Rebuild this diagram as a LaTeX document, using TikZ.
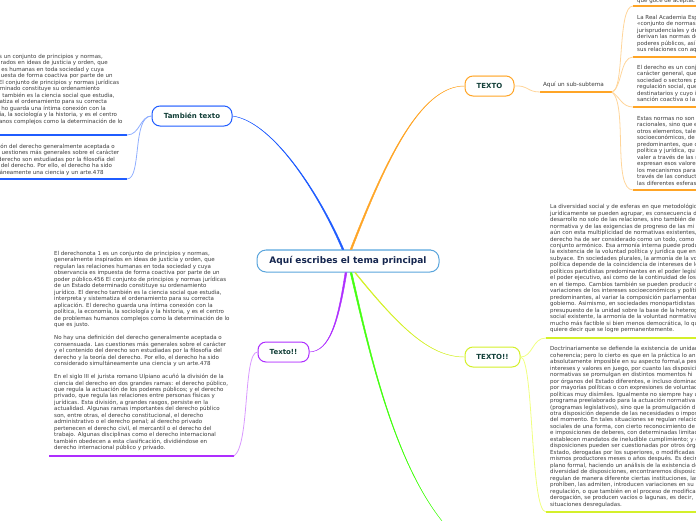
\documentclass[tikz,border=0pt]{standalone}
\usepackage{fontspec}
\setmainfont{DejaVu Sans}
\definecolor{bluem}{HTML}{1F5CFF}
\definecolor{bluel}{HTML}{8FAEFF}
\definecolor{orangem}{HTML}{FFA526}
\definecolor{orangel}{HTML}{FFD59A}
\definecolor{purplem}{HTML}{AE2EFF}
\definecolor{purplel}{HTML}{D998FF}
\definecolor{limem}{HTML}{D4F02A}
\definecolor{limel}{HTML}{F0FF80}
\definecolor{greenm}{HTML}{44FF10}
\definecolor{centerb}{HTML}{5AA5DC}
\definecolor{centerl}{HTML}{93C6EA}
\definecolor{navy}{HTML}{15264F}
\definecolor{dgreen}{HTML}{123F38}
\definecolor{body}{HTML}{3C3C3C}
\newcommand\lcut[2]{\hbox to 122pt{\kern-53pt\hphantom{#1}#2\hss}}
\newcommand\taper[6]{\filldraw[#1,line width=.45pt,line join=round] ([xshift=-#6pt]#2) .. controls ([xshift=-.6*#6pt]#3) and ([xshift=-.2*#6pt]#4) .. (#5) .. controls ([xshift=.2*#6pt]#4) and ([xshift=.6*#6pt]#3) .. ([xshift=#6pt]#2) -- cycle;}
\tikzset{
  x=1pt,y=-1pt,
  mainbox/.style={draw=centerb,line width=1pt,fill=white,rounded corners=9pt,inner sep=0pt,text=navy,font=\fontsize{9}{11}\bfseries\selectfont},
  branchbox/.style={draw=#1,line width=1pt,fill=white,rounded corners=8pt,inner sep=0pt,text=dgreen,font=\fontsize{7}{9}\bfseries\selectfont},
  leaftext/.style={inner sep=0pt,anchor=north west,align=left,text=body,font=\fontsize{5.52}{6.48}\selectfont},
  under/.style={draw=#1,line width=1.3pt},
  link/.style={draw=#1,line width=.8pt}
}
\begin{document}
\begin{tikzpicture}
\useasboundingbox (0,0) rectangle (696,520);
% main nodes
\node[mainbox,minimum width=182pt,minimum height=22pt] (central) at (348,261) {Aquí escribes el tema principal};
\node[branchbox=bluem,minimum width=80pt,minimum height=20pt] (tambien) at (192,116) {También texto};
\node[branchbox=orangem,minimum width=49pt,minimum height=20pt] (texto) at (489.5,86) {TEXTO};
\node[branchbox=limem,minimum width=55pt,minimum height=20pt] (textob) at (492.5,357) {TEXTO!!};
\node[branchbox=purplem,minimum width=51pt,minimum height=20pt] (textoc) at (283.5,352) {Texto!!};
\draw[orangel,line width=1.2pt] ([xshift=8pt]texto.north west) -- ([xshift=-8pt]texto.north east);
\draw[purplel,line width=1.2pt] ([xshift=8pt]textoc.south west) -- ([xshift=-8pt]textoc.south east);
\draw[bluel,line width=1.1pt] ([xshift=8pt]tambien.north west) -- ([xshift=-8pt]tambien.north east);
\draw[centerl,line width=1.1pt] ([xshift=9pt]central.north west) -- ([xshift=-9pt]central.north east);
% branch roots and free end of the green branch
\coordinate (cblue) at ([xshift=-5pt]central.north);
\coordinate (corange) at ([xshift=3pt]central.north);
\coordinate (cpurple) at ([xshift=-2pt]central.south);
\coordinate (cgreen) at ([xshift=3pt]central.south);
\coordinate (clime) at ([xshift=7pt]central.south);
\coordinate (greenend) at (442,521);
% main branches
\taper{bluem}{cblue}{322,200}{275,122}{tambien.east}{.9}
\taper{orangem}{corange}{385,162}{420,86}{texto.west}{.9}
\taper{purplem}{cpurple}{338,322}{330,351}{textoc.east}{.9}
\taper{greenm}{cgreen}{368,345}{392,458}{greenend}{.9}
\taper{limem}{clime}{400,328}{430,357}{textob.west}{.5}
% sub topic
\node[inner sep=0pt,text=body,font=\fontsize{5.7}{7}\selectfont] (sub) at (573.5,85) {Aquí un sub-subtema};
\coordinate (suba) at (540,92);
\coordinate (subb) at (612,92);
\draw[under=orangem] (suba) -- (subb);
\draw[link=orangel] (texto.east) .. controls (528,85) and (527,92) .. (suba);
% left, También
\node[leaftext] (la) at (0,54) {\lcut{El derechonota 1 e}{s un conjunto de principios y normas,}\\
\lcut{generalmente inspi}{rados en ideas de justicia y orden, que}\\
\lcut{regulan las relacion}{es humanas en toda sociedad y cuya}\\
\lcut{observancia es imp}{uesta de forma coactiva por parte de un}\\
\lcut{poder público.456 }{El conjunto de principios y normas jurídicas}\\
\lcut{de un Estado deter}{minado constituye su ordenamiento}\\
\lcut{jurídico. El derecho }{también es la ciencia social que estudia,}\\
\lcut{interpreta y sistem}{atiza el ordenamiento para su correcta}\\
\lcut{aplicación. El derec}{ho guarda una íntima conexión con la}\\
\lcut{política, la econom}{ía, la sociología y la historia, y es el centro}\\
\lcut{de problemas hum}{anos complejos como la determinación de lo}};
\coordinate (laa) at (0,135);
\coordinate (lab) at (127,135);
\draw[under=bluem] (laa) -- (lab);
\draw[link=bluel] (tambien.west) .. controls (140,116) and (140,135) .. (lab);
\node[leaftext] (lb) at (0,143.5) {\lcut{No hay una definici}{ón del derecho generalmente aceptada o}\\
\lcut{consensuada. Las c}{uestiones más generales sobre el carácter}\\
\lcut{y el contenido del }{derecho son estudiadas por la filosofía del}\\
\lcut{derecho y la teoría }{del derecho. Por ello, el derecho ha sido}\\
\lcut{considerado simult}{áneamente una ciencia y un arte.478}};
\coordinate (lba) at (0,179);
\coordinate (lbb) at (127,179);
\draw[under=bluem] (lba) -- (lbb);
\draw[link=bluel] (tambien.west) .. controls (132,116) and (142,179) .. (lbb);
% left, Texto!!
\node[leaftext] (lc) at (54,251) {El derechonota 1 es un conjunto de principios y normas,\\
generalmente inspirados en ideas de justicia y orden, que\\
regulan las relaciones humanas en toda sociedad y cuya\\
observancia es impuesta de forma coactiva por parte de un\\
poder público.456 El conjunto de principios y normas jurídicas\\
de un Estado determinado constituye su ordenamiento\\
jurídico. El derecho también es la ciencia social que estudia,\\
interpreta y sistematiza el ordenamiento para su correcta\\
aplicación. El derecho guarda una íntima conexión con la\\
política, la economía, la sociología y la historia, y es el centro\\
de problemas humanos complejos como la determinación de lo\\
que es justo.\\[6.48pt]
No hay una definición del derecho generalmente aceptada o\\
consensuada. Las cuestiones más generales sobre el carácter\\
y el contenido del derecho son estudiadas por la filosofía del\\
derecho y la teoría del derecho. Por ello, el derecho ha sido\\
considerado simultáneamente una ciencia y un arte.478\\[6.48pt]
En el siglo III el jurista romano Ulpiano acuñó la división de la\\
ciencia del derecho en dos grandes ramas: el derecho público,\\
que regula la actuación de los poderes públicos; y el derecho\\
privado, que regula las relaciones entre personas físicas y\\
jurídicas. Esta división, a grandes rasgos, persiste en la\\
actualidad. Algunas ramas importantes del derecho público\\
son, entre otras, el derecho constitucional, el derecho\\
administrativo o el derecho penal; al derecho privado\\
pertenecen el derecho civil, el mercantil o el derecho del\\
trabajo. Algunas disciplinas como el derecho internacional\\
también obedecen a esta clasificación, dividiéndose en\\
derecho internacional público y privado.};
\coordinate (lca) at (49,456);
\coordinate (lcb) at (234,456);
\draw[under=purplem] (lca) -- (lcb);
\draw[link=purplel] (textoc.west) .. controls (243,352) and (250,445) .. (lcb);
% right, TEXTO
\coordinate (ra) at (633,6); \coordinate (rae) at (696,6);
\coordinate (rb) at (633,57); \coordinate (rbe) at (696,57);
\coordinate (rc) at (633,107); \coordinate (rce) at (696,107);
\coordinate (rd) at (633,190); \coordinate (rde) at (696,190);
\node[leaftext] (ta) at (637,-2) {que goce de aceptac};
\node[leaftext] (tb) at (637,15) {La Real Academia Esp\\«conjunto de normas\\jurisprudenciales y de\\derivan las normas de\\poderes públicos, así\\sus relaciones con aq};
\node[leaftext] (tc) at (637,65) {El derecho es un conj\\carácter general, que\\sociedad o sectores p\\regulación social, que\\destinatarios y cuyo i\\sanción coactiva o la};
\node[leaftext] (td) at (637,116) {Estas normas no son\\racionales, sino que e\\otros elementos, tale\\socioeconómicos, de\\predominantes, que c\\política y jurídica, qu\\valer a través de las n\\expresan esos valore\\los mecanismos para\\través de las conduct\\las diferentes esferas};
\foreach \s/\e in {ra/rae,rb/rbe,rc/rce,rd/rde} \draw[under=orangem] (\s) -- (\e);
\draw[link=orangel] (subb) .. controls (625,90) and (617,6) .. (ra);
\draw[link=orangel] (subb) .. controls (622,88) and (620,57) .. (rb);
\draw[link=orangel] (subb) .. controls (620,97) and (622,107) .. (rc);
\draw[link=orangel] (subb) .. controls (628,105) and (612,190) .. (rd);
% right, TEXTO!!
\coordinate (rf) at (546,338); \coordinate (rfe) at (696,338);
\coordinate (rg) at (546,512); \coordinate (rge) at (696,512);
\node[leaftext] (tf) at (550,204) {La diversidad social y de esferas en que metodológic\\
jurídicamente se pueden agrupar, es consecuencia de\\
desarrollo no solo de las relaciones, sino también de\\
normativa y de las exigencias de progreso de las mi\\
aún con esta multiplicidad de normativas existentes,\\
derecho ha de ser considerado como un todo, como\\
conjunto armónico. Esa armonía interna puede produ\\
la existencia de la voluntad política y jurídica que en\\
subyace. En sociedades plurales, la armonía de la vo\\
política depende de la coincidencia de intereses de lo\\
políticos partidistas predominantes en el poder legisl\\
el poder ejecutivo, así como de la continuidad de los\\
en el tiempo. Cambios también se pueden producir c\\
variaciones de los intereses socioeconómicos y políti\\
predominantes, al variar la composición parlamentar\\
gobierno. Asimismo, en sociedades monopartidistas\\
presupuesto de la unidad sobre la base de la heterog\\
social existente, la armonía de la voluntad normativa\\
mucho más factible si bien menos democrática, lo qu\\
quiere decir que se logre permanentemente.};
\node[leaftext] (tg) at (550,346.3) {Doctrinariamente se defiende la existencia de unidad\\
coherencia; pero lo cierto es que en la práctica lo an\\
absolutamente imposible en su aspecto formal,a pes\\
intereses y valores en juego, por cuanto las disposici\\
normativas se promulgan en distintos momentos hi\\
por órganos del Estado diferentes, e incluso dominad\\
por mayorías políticas o con expresiones de voluntad\\
políticas muy disímiles. Igualmente no siempre hay u\\
programa preelaborado para la actuación normativa\\
(programas legislativos), sino que la promulgación d\\
otra disposición depende de las necesidades o impos\\
del momento. En tales situaciones se regulan relacio\\
sociales de una forma, con cierto reconocimiento de\\
e imposiciones de deberes, con determinadas limitac\\
establecen mandatos de ineludible cumplimiento; y c\\
disposiciones pueden ser cuestionadas por otros órga\\
Estado, derogadas por los superiores, o modificadas\\
mismos productores meses o años después. Es decir\\
plano formal, haciendo un análisis de la existencia de\\
diversidad de disposiciones, encontraremos disposici\\
regulan de manera diferente ciertas instituciones, las\\
prohíben, las admiten, introducen variaciones en su\\
regulación, o que también en el proceso de modifica\\
derogación, se producen vacíos o lagunas, es decir,\\
situaciones desreguladas.};
\draw[under=limem] (rf) -- (rfe);
\draw[under=limem] (rg) -- (rge);
\draw[link=limel] (textob.east) .. controls (533,357) and (532,338) .. (rf);
\draw[link=limel] (textob.east) .. controls (534,357) and (530,512) .. (rg);
\end{tikzpicture}
\end{document}
